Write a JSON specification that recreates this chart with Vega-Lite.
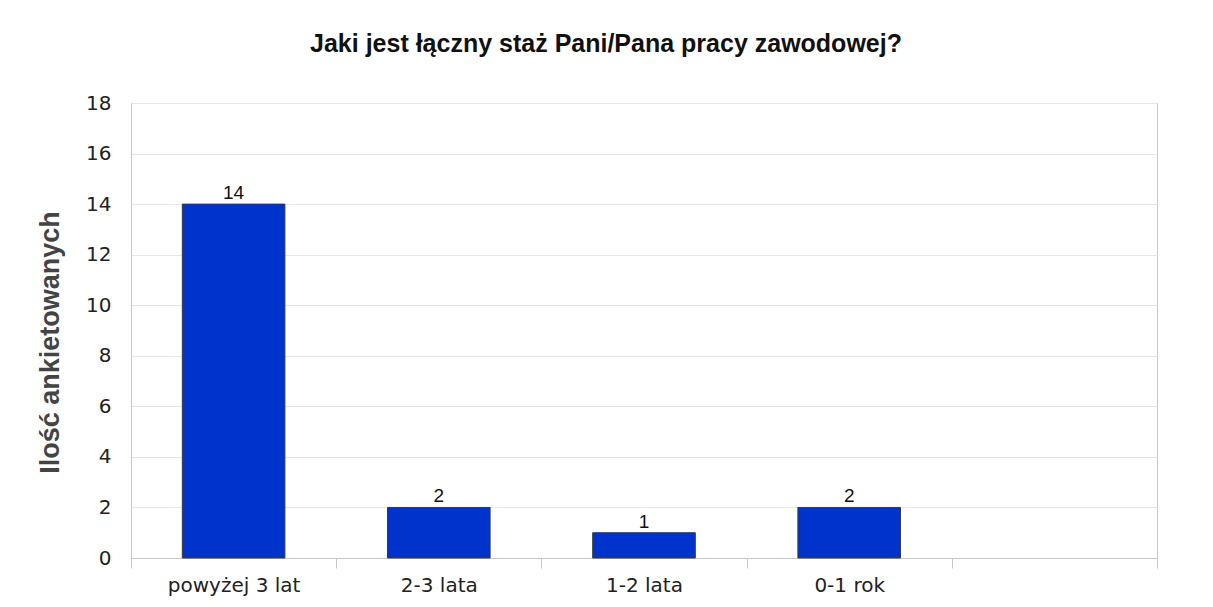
{
  "$schema": "https://vega.github.io/schema/vega-lite/v6.json",
  "width": 1026,
  "height": 455,
  "autosize": {"type": "none"},
  "padding": {"left": 131, "top": 103, "right": 56, "bottom": 49},
  "background": "white",
  "title": {
    "text": "Jaki jest łączny staż Pani/Pana pracy zawodowej?",
    "font": "Liberation Sans",
    "fontSize": 25,
    "fontWeight": "bold",
    "color": "#111111",
    "anchor": "middle",
    "frame": "group",
    "dx": -38,
    "baseline": "alphabetic",
    "offset": 16
  },
  "data": {
    "values": [
      {"kategoria": "powyżej 3 lat", "ilosc": 14},
      {"kategoria": "2-3 lata", "ilosc": 2},
      {"kategoria": "1-2 lata", "ilosc": 1},
      {"kategoria": "0-1 rok", "ilosc": 2}
    ]
  },
  "encoding": {
    "x": {
      "field": "kategoria",
      "type": "nominal",
      "scale": {"domain": ["powyżej 3 lat", "2-3 lata", "1-2 lata", "0-1 rok", " "], "paddingInner": 0, "paddingOuter": 0},
      "axis": {
        "title": null,
        "labelAngle": 0,
        "labelFont": "DejaVu Sans",
        "labelFontSize": 20,
        "labelColor": "#222222",
        "labelPadding": 7,
        "tickBand": "extent",
        "tickSize": 10,
        "tickColor": "#c8c8c8",
        "domainColor": "#c8c8c8",
        "grid": false
      }
    },
    "y": {
      "field": "ilosc",
      "type": "quantitative",
      "scale": {"domain": [0, 18], "nice": false},
      "axis": {
        "title": "Ilość ankietowanych",
        "titleFont": "Liberation Sans",
        "titleFontSize": 27,
        "titleFontWeight": "bold",
        "titleColor": "#444444",
        "titlePadding": 21,
        "titleY": 239,
        "values": [0, 2, 4, 6, 8, 10, 12, 14, 16, 18],
        "labelFont": "DejaVu Sans",
        "labelFontSize": 20,
        "labelColor": "#222222",
        "labelPadding": 20,
        "ticks": false,
        "domainColor": "#c8c8c8",
        "gridColor": "#e6e6e6",
        "gridWidth": 1
      }
    }
  },
  "layer": [
    {
      "mark": {"type": "bar", "width": {"band": 0.5}, "color": "#0033cc", "stroke": "#3a3a3a", "strokeWidth": 1}
    },
    {
      "mark": {"type": "text", "font": "Liberation Sans", "fontSize": 19, "color": "#111111", "baseline": "alphabetic", "dy": -5},
      "encoding": {"text": {"field": "ilosc", "type": "quantitative"}}
    }
  ],
  "config": {
    "view": {"stroke": "#c8c8c8", "strokeWidth": 1}
  }
}
